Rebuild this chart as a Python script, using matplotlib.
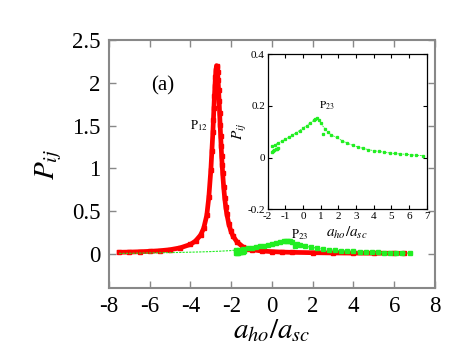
"""P_ij versus a_ho/a_sc, main panel (a) with an inset zoomed on P23."""

import matplotlib
matplotlib.use("Agg")
import matplotlib.pyplot as plt

plt.rcParams["font.family"] = ["Liberation Serif", "DejaVu Serif"]
plt.rcParams["mathtext.fontset"] = "stix"
plt.rcParams["axes.unicode_minus"] = False

# P12 (red)
red_x = [-7.5, -7.0, -6.5, -6.0, -5.5, -5.0, -4.5, -4.0, -3.75, -3.5, -3.35, -3.2,
         -3.1, -3.0, -2.95, -2.9, -2.875, -2.85, -2.825, -2.8, -2.775, -2.75, -2.72,
         -2.695, -2.67, -2.645, -2.62, -2.595, -2.57, -2.545, -2.52, -2.495, -2.47,
         -2.445, -2.42, -2.37, -2.32, -2.27, -2.22, -2.12, -2.02, -1.92, -1.72,
         -1.42, -1.2, -1.0, -0.5, 0.0, 0.5, 1.0, 2.0, 3.0, 4.0, 5.0, 6.0, 6.5]
red_y = [0.018, 0.020, 0.024, 0.029, 0.036, 0.048, 0.07, 0.11, 0.15, 0.22, 0.30, 0.45,
         0.66, 0.98, 1.2, 1.42, 1.56, 1.70, 1.84, 1.96, 2.07, 2.15, 2.2,
         2.18, 2.12, 2.03, 1.92, 1.79, 1.65, 1.51, 1.38, 1.26, 1.14,
         1.04, 0.94, 0.78, 0.65, 0.55, 0.47, 0.35, 0.27, 0.21, 0.14,
         0.08, 0.06, 0.048, 0.033, 0.025, 0.02, 0.017, 0.013, 0.010, 0.008, 0.007, 0.006, 0.005]

# P23 (green) - dashed tail on the left, points from about -1.8 on
tail_x = [-7.5, -7.0, -6.5, -6.0, -5.5, -5.0, -4.5, -4.0, -3.5, -3.0, -2.5, -2.0, -1.77]
tail_y = [0.005, 0.006, 0.008, 0.010, 0.012, 0.014, 0.016, 0.019, 0.022, 0.026, 0.031, 0.038, 0.044]

green_x = [-1.77, -1.6, -1.4, -1.2, -1.0, -0.8, -0.6, -0.4, -0.2, 0.0, 0.2, 0.4, 0.6,
           0.7, 0.8, 0.9, 1.0, 1.25, 1.4, 1.6, 1.9, 2.2, 2.5, 2.8, 3.1, 3.4, 3.7,
           4.0, 4.3, 4.6, 4.9, 5.2, 5.5, 5.8, 6.1, 6.4, 6.77]
green_y = [0.044, 0.050, 0.057, 0.064, 0.071, 0.079, 0.087, 0.096, 0.105, 0.114, 0.124,
           0.134, 0.144, 0.148, 0.152, 0.146, 0.134, 0.11, 0.098, 0.088, 0.078, 0.066,
           0.056, 0.048, 0.041, 0.036, 0.031, 0.027, 0.024, 0.021, 0.018, 0.016, 0.014,
           0.013, 0.011, 0.009, 0.008]

# short lower branch near the start and the stray point after the peak
low_x = [-1.77, -1.7, -1.62, -1.55, -1.48, -1.4]
low_y = [0.022, 0.025, 0.028, 0.032, 0.035, 0.039]
odd_x = [1.12]
odd_y = [0.092]

RED = "#ff0000"
GREEN = "#22ee22"
GRAY = "#888888"
SERIF = ["Liberation Serif", "DejaVu Serif"]

fig = plt.figure(figsize=(4.63, 3.58), dpi=100)
ax = fig.add_axes([0.2354, 0.1955, 0.704, 0.6928])

ax.plot(red_x, red_y, "-", color=RED, lw=3.4)
ax.plot(red_x, red_y, "s", color=RED, ms=3.4, mec=RED)
ax.plot(tail_x + green_x, tail_y + green_y, "--", color=GREEN, lw=0.8, dashes=(2, 1))
ax.plot(green_x, green_y, "s", color=GREEN, ms=3.2, mec=GREEN)
ax.plot(low_x, low_y, "s", color=GREEN, ms=3.6, mec=GREEN)
ax.plot(odd_x, odd_y, "s", color=GREEN, ms=3.0, mec=GREEN)

ax.set_xlim(-8, 8)
ax.set_ylim(-0.4, 2.5)
ax.set_xticks(range(-8, 9, 2))
ax.set_yticks([0, 0.5, 1, 1.5, 2, 2.5])
ax.set_yticklabels(["0", "0.5", "1", "1.5", "2", "2.5"])
ax.tick_params(direction="in", top=True, right=True, length=5, width=1,
               color=GRAY, labelsize=16.5, pad=6)
for lab in ax.get_xticklabels() + ax.get_yticklabels():
    lab.set_fontfamily(SERIF)
for s in ax.spines.values():
    s.set_color(GRAY)
    s.set_linewidth(1.5)
ax.set_xlabel(r"$a_{ho}/a_{sc}$", fontsize=21, labelpad=0)
ax.set_ylabel(r"$P_{ij}$", fontsize=21, labelpad=6)

ax.text(-5.35, 1.96, "(a)", fontsize=15, ha="center", va="center")
ax.text(-3.6, 1.5, r"$\mathrm{P}_{12}$", fontsize=9, ha="center", va="center")
ax.text(1.35, 0.22, r"$\mathrm{P}_{23}$", fontsize=9, ha="center", va="center")

# inset
ins = fig.add_axes([0.5782, 0.4154, 0.3434, 0.4329])
ins.plot(green_x, green_y, "--", color=GREEN, lw=0.6, dashes=(2, 1))
ins.plot(green_x, green_y, "s", color=GREEN, ms=1.4, mec=GREEN)
ins.plot(low_x, low_y, "s", color=GREEN, ms=1.6, mec=GREEN)
ins.plot(odd_x, odd_y, "s", color=GREEN, ms=1.4, mec=GREEN)
ins.set_xlim(-2, 7)
ins.set_ylim(-0.2, 0.4)
ins.set_xticks(range(-2, 8))
ins.set_yticks([-0.2, 0, 0.2, 0.4])
ins.set_yticklabels(["-0.2", "0", "0.2", "0.4"])
ins.tick_params(direction="in", top=True, right=True, length=3, width=0.8,
                labelsize=8, pad=2)
for lab in ins.get_xticklabels() + ins.get_yticklabels():
    lab.set_fontfamily(SERIF)
for s in ins.spines.values():
    s.set_linewidth(0.9)
ins.set_xlabel(r"$a_{ho}/a_{sc}$", fontsize=11, labelpad=3)
ins.set_ylabel(r"$P_{ij}$", fontsize=11, labelpad=-1)
ins.text(1.35, 0.2, r"$\mathrm{P}_{23}$", fontsize=8, ha="center", va="center")

fig.savefig("out.png", dpi=100)
